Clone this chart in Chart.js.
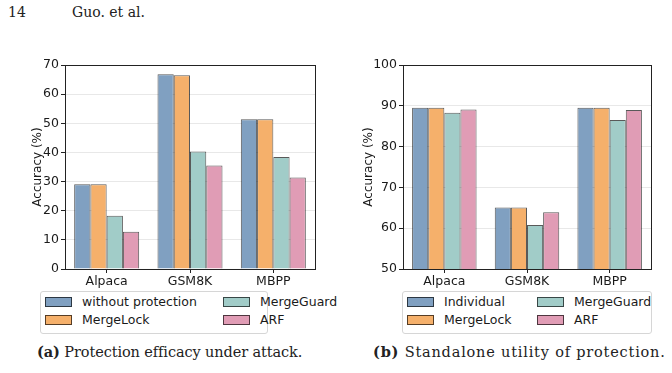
<!DOCTYPE html>
<html>
<head>
<meta charset="utf-8">
<script src="https://cdn.jsdelivr.net/npm/chart.js@4"></script>
<style>
  body { margin: 0; background: #fff; width: 672px; height: 373px; position: relative; overflow: hidden; }
  .hdr { position: absolute; font-family: "DejaVu Serif", serif; font-size: 14px; color: #222; top: 4px; }
  canvas { position: absolute; }
  .legend { position: absolute; border: 1px solid #d6d6d6; border-radius: 3px; background: #fff;
    font-family: "DejaVu Sans", sans-serif; font-size: 12.5px; color: #1a1a1a; }
  .legend .item { position: absolute; display: flex; align-items: center; white-space: nowrap; }
  .legend .sw { width: 25px; height: 8px; border: 1px solid rgba(0,0,0,0.65); margin-right: 10px; }
  .cap { position: absolute; top: 343px; font-family: "DejaVu Serif", serif; font-size: 14.5px; color: #222; white-space: nowrap; }
</style>
</head>
<body>
<div class="hdr" style="left:8px">14</div>
<div class="hdr" style="left:72px">Guo. et al.</div>

<canvas id="chartA" width="330" height="251" style="left:0;top:40px"></canvas>
<canvas id="chartB" width="330" height="251" style="left:336px;top:40px"></canvas>

<div id="legendA" class="legend" style="left:40px;top:291px;width:226px;height:41px"></div>
<div id="legendB" class="legend" style="left:402px;top:291px;width:248px;height:41px"></div>

<div class="cap" style="left:37px;letter-spacing:-0.1px"><b>(a)</b> Protection efficacy under attack.</div>
<div class="cap" style="left:373px;letter-spacing:0.8px"><b>(b)</b> Standalone utility of protection.</div>

<script>
// datos
const categorias = ["Alpaca", "GSM8K", "MBPP"];

const seriesA = ["without protection", "MergeLock", "MergeGuard", "ARF"];
const ataqueSinProteccion = [29.1, 66.8, 51.4];
const ataqueMergeLock = [29.1, 66.5, 51.4];
const ataqueMergeGuard = [18.3, 40.3, 38.4];
const ataqueARF = [12.8, 35.5, 31.4];
const ticksA = [0, 10, 20, 30, 40, 50, 60, 70];

const seriesB = ["Individual", "MergeLock", "MergeGuard", "ARF"];
const utilIndividual = [89.5, 65.1, 89.5];
const utilMergeLock = [89.5, 65.1, 89.5];
const utilMergeGuard = [88.3, 60.8, 86.5];
const utilARF = [89.1, 63.9, 89.0];
const ticksB = [50, 60, 70, 80, 90, 100];

const colores = ["#80a0c1", "#f5b06b", "#a1ccc8", "#e09cb5"];

const fuenteTicks = { family: "'DejaVu Sans', sans-serif", size: 12.5 };
const fuenteTitulo = { family: "'DejaVu Sans', sans-serif", size: 12 };

// marco completo alrededor del area del grafico
const marco = {
  id: "marco",
  afterDatasetsDraw(chart) {
    const a = chart.chartArea;
    const ctx = chart.ctx;
    ctx.save();
    ctx.strokeStyle = "#222";
    ctx.lineWidth = 1;
    ctx.strokeRect(Math.round(a.left) + 0.5, Math.round(a.top) + 0.5,
      Math.round(a.right - a.left), Math.round(a.bottom - a.top));
    ctx.restore();
  }
};

function crearGrafico(id, nombres, valores, ticks, padLeft, ancho) {
  const datasets = nombres.map((n, i) => ({
    label: n,
    data: valores[i],
    backgroundColor: colores[i],
    borderColor: "rgba(0,0,0,0.65)",
    borderWidth: 1,
    barPercentage: 1.0,
    categoryPercentage: 0.78
  }));
  return new Chart(document.getElementById(id), {
    type: "bar",
    data: { labels: categorias, datasets: datasets },
    plugins: [marco],
    options: {
      responsive: false,
      animation: false,
      layout: { padding: { left: padLeft, top: 25, right: 15, bottom: 0 } },
      plugins: { legend: { display: false }, tooltip: { enabled: false } },
      scales: {
        x: {
          grid: { display: true, drawOnChartArea: false, offset: false, tickLength: 4, tickColor: "#222" },
          border: { display: false },
          ticks: { color: "#1a1a1a", padding: 1, font: fuenteTicks },
          afterFit: s => { s.height = 22; }
        },
        y: {
          min: ticks[0],
          max: ticks[ticks.length - 1],
          afterBuildTicks: s => { s.ticks = ticks.map(v => ({ value: v })); },
          grid: { color: "#e8e8e8", tickLength: 4, tickColor: "#222" },
          border: { display: false },
          ticks: { color: "#1a1a1a", padding: 2, font: fuenteTicks },
          title: { display: true, text: "Accuracy (%)", color: "#1a1a1a", font: fuenteTitulo },
          afterFit: s => { s.width = ancho; }
        }
      }
    }
  });
}

function crearLeyenda(id, nombres, posiciones) {
  const cont = document.getElementById(id);
  nombres.forEach((n, i) => {
    const el = document.createElement("div");
    el.className = "item";
    el.style.left = posiciones[i][0] + "px";
    el.style.top = posiciones[i][1] + "px";
    el.innerHTML = `<span class="sw" style="background:${colores[i]}"></span>${n}`;
    cont.appendChild(el);
  });
}

crearGrafico("chartA", seriesA, [ataqueSinProteccion, ataqueMergeLock, ataqueMergeGuard, ataqueARF], ticksA, 27, 38);
crearGrafico("chartB", seriesB, [utilIndividual, utilMergeLock, utilMergeGuard, utilARF], ticksB, 22, 45);

// orden por columnas, como en la figura original
crearLeyenda("legendA", seriesA, [[4, 2], [4, 20], [182, 2], [182, 20]]);
crearLeyenda("legendB", seriesB, [[4, 2], [4, 20], [134, 2], [134, 20]]);
</script>
</body>
</html>
